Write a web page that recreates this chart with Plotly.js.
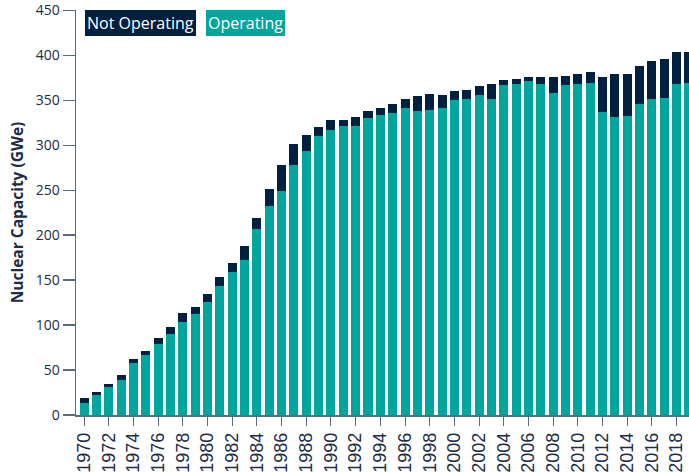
<!DOCTYPE html>
<html>
<head>
<meta charset="utf-8">
<script src="https://cdn.plot.ly/plotly-3.0.1.min.js"></script>
<style>html,body{margin:0;padding:0;background:#fff;}#chart{width:689px;height:472px;}</style>
</head>
<body>
<div id="chart"></div>
<script>
const years = [1970,1971,1972,1973,1974,1975,1976,1977,1978,1979,
  1980,1981,1982,1983,1984,1985,1986,1987,1988,1989,
  1990,1991,1992,1993,1994,1995,1996,1997,1998,1999,
  2000,2001,2002,2003,2004,2005,2006,2007,2008,2009,
  2010,2011,2012,2013,2014,2015,2016,2017,2018,2019];
const operating = [13,22,31,39,58,67,79,90,103,112,
  126,143,159,172,207,233,249,278,294,310,
  317,322,322,330,334,336,342,338,339,342,
  350,352,356,352,367,368,371,368,358,367,
  368,369,337,332,333,346,352,353,368,369];
const notOperating = [6,3.5,3.5,5.5,4.5,4.5,6.5,8,10,8,
  9,11,10,16,12,18,29,23,18,10,
  11,6,9,8,8,10,10,16.5,18,13.5,
  10,9,10,16,5.5,5.5,5.5,8,18,10,
  11,12,39,47,46,42,42,42.5,35.5,34.5];
const yTicks = [0,50,100,150,200,250,300,350,400,450];
const legendLabels = ["Not Operating", "Operating"];
const yTitle = "Nuclear Capacity (GWe)";

const teal = "#00a59b";
const navy = "#00203f";
const textCol = "#1b2b48";
const axisCol = "#5b6b80";

const data = [
  {type: "bar", x: years, y: operating, name: legendLabels[1], marker: {color: teal}},
  {type: "bar", x: years, y: notOperating, name: legendLabels[0], marker: {color: navy}}
];

const layout = {
  width: 689, height: 472,
  margin: {l: 76, r: 0, t: 10, b: 57},
  barmode: "stack",
  bargap: 0.27,
  showlegend: false,
  paper_bgcolor: "#ffffff",
  plot_bgcolor: "#ffffff",
  font: {family: "Open Sans", color: textCol},
  xaxis: {
    type: "linear",
    range: [1969.35, 2019.0],
    tickmode: "linear", tick0: 1970, dtick: 2,
    tickangle: -90,
    ticks: "outside", ticklen: 9, tickcolor: axisCol, tickwidth: 1,
    showline: true, linecolor: axisCol, linewidth: 1.5,
    showgrid: false, zeroline: false,
    tickfont: {family: "Liberation Sans", size: 18, color: textCol}
  },
  yaxis: {
    range: [0, 450.5],
    tickmode: "array", tickvals: yTicks,
    ticklabeloverflow: "allow",
    ticks: "outside", ticklen: 12, tickcolor: axisCol, tickwidth: 1.5,
    showline: true, linecolor: axisCol, linewidth: 1.5,
    showgrid: false, zeroline: false,
    tickfont: {family: "Open Sans", size: 14, color: textCol},
    title: {text: yTitle, font: {family: "Open Sans", size: 15.5, color: textCol, weight: "bold"}, standoff: 8}
  },
  annotations: [
    {xref: "paper", yref: "paper", x: 0.0147, y: 1.0, xanchor: "left", yanchor: "top",
     text: legendLabels[0], showarrow: false, bgcolor: navy, borderpad: 2, borderwidth: 0,
     font: {family: "Open Sans", size: 16, color: "#ffffff"}},
    {xref: "paper", yref: "paper", x: 0.212, y: 1.0, xanchor: "left", yanchor: "top",
     text: legendLabels[1], showarrow: false, bgcolor: teal, borderpad: 2, borderwidth: 0,
     font: {family: "Open Sans", size: 16, color: "#ffffff"}}
  ]
};

Plotly.newPlot("chart", data, layout, {displayModeBar: false, staticPlot: true});
</script>
</body>
</html>
